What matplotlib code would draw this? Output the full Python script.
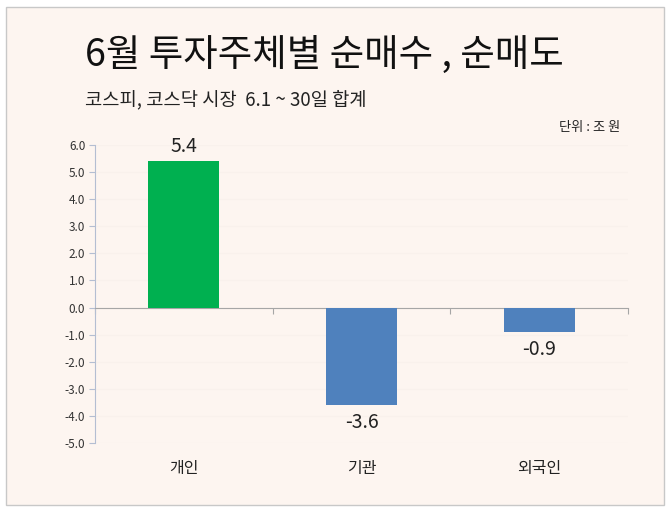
import numpy as np
import matplotlib.pyplot as plt
from matplotlib.patches import Rectangle

plt.rcParams['font.family'] = ['Noto Sans CJK KR', 'DejaVu Sans']

# --- dados ---
categorias = ['개인', '기관', '외국인']
valores = [5.4, -3.6, -0.9]
rotulos = ['5.4', '-3.6', '-0.9']
cores = ['#00B050', '#4F81BD', '#4F81BD']
yticks = [6.0, 5.0, 4.0, 3.0, 2.0, 1.0, 0.0, -1.0, -2.0, -3.0, -4.0, -5.0]

titulo = '6월 투자주체별 순매수 , 순매도'
subtitulo = '코스피, 코스닥 시장  6.1 ~ 30일 합계'
unidade = '단위 : 조 원'

fundo = '#FDF5F0'

fig = plt.figure(figsize=(6.7, 5.11), dpi=100)
fig.patch.set_facecolor('white')

# moldura externa com fundo creme
fig.patches.append(Rectangle((6 / 670, 6 / 511), 658 / 670, 498 / 511,
                             transform=fig.transFigure, facecolor=fundo,
                             edgecolor='#C8C8C8', linewidth=1.0, zorder=-5))

ax = fig.add_axes([95 / 670, 1 - 443 / 511, 533 / 670, 298 / 511])
ax.set_facecolor('none')
ax.set_zorder(2)

x = np.arange(len(categorias))
ax.bar(x, valores, width=0.4, color=cores, zorder=3)

ax.set_xlim(-0.5, len(categorias) - 0.5)
ax.set_ylim(-5, 6)
ax.set_yticks(yticks)
ax.set_yticklabels([f'{v:.1f}' for v in yticks], fontsize=8.5, color='#333333')
ax.tick_params(axis='y', length=4, color='#B4BED2', pad=3)
ax.grid(axis='y', color='#F9F1EC', linewidth=0.8, zorder=0)

# eixo x na linha do zero
ax.spines['bottom'].set_position(('data', 0))
ax.spines['bottom'].set_color('#A6A6A6')
ax.spines['left'].set_color('#B4BED2')
ax.spines['top'].set_visible(False)
ax.spines['right'].set_visible(False)
ax.set_xticks(np.arange(-0.5, len(categorias), 1.0))
ax.set_xticklabels([])
ax.tick_params(axis='x', length=4, color='#A6A6A6')

for xi, v, r in zip(x, valores, rotulos):
    if v >= 0:
        ax.annotate(r, (xi, v), xytext=(0, 3), textcoords='offset points',
                    ha='center', va='bottom', fontsize=14, color='#222222')
    else:
        ax.annotate(r, (xi, v), xytext=(0, -5), textcoords='offset points',
                    ha='center', va='top', fontsize=14, color='#222222')

for xi, c in zip(x, categorias):
    ax.text(xi, -5.95, c, ha='center', va='center', fontsize=11.5, color='#222222')

fig.text(85 / 670, 1 - 55 / 511, titulo, fontsize=27, va='center', ha='left',
         color='#111111', fontweight='light', zorder=3)
fig.text(85 / 670, 1 - 100 / 511, subtitulo, fontsize=13.5, va='center', ha='left',
         color='#222222', zorder=3)
fig.text(620 / 670, 1 - 128 / 511, unidade, fontsize=9.5, va='center', ha='right',
         color='#222222', zorder=3)

fig.savefig('out.png', dpi=100, facecolor=fig.get_facecolor())
